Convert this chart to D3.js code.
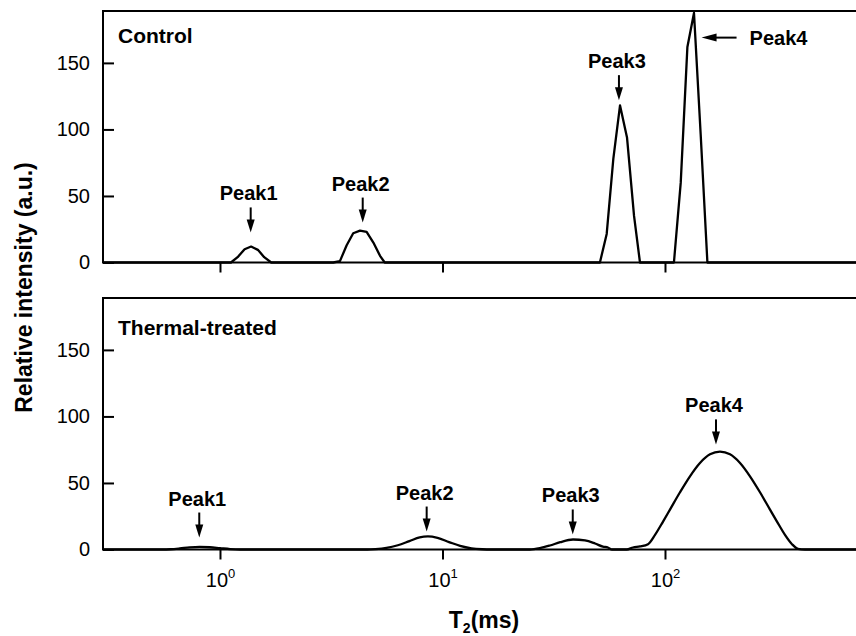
<!DOCTYPE html>
<html>
<head>
<meta charset="utf-8">
<script src="https://cdn.jsdelivr.net/npm/d3@7"></script>
<style>
    body { margin: 0; background: #fff; }
    svg { display: block; }
    text { font-family: 'Liberation Sans', Arial, sans-serif; fill: #000; }
</style>
</head>
<body>
<div id="chart"></div>
<script>
// T2 distribution, control sample (ms / a.u.)
const controlT2 = [0.298, 1.12, 1.20, 1.29, 1.38, 1.48, 1.58, 1.70,
    3.23, 3.46, 3.71, 3.97, 4.26, 4.56, 4.89, 5.24, 5.5,
    51.0, 54.7, 58.6, 62.8, 67.5, 72.6, 77.2,
    109.7, 117.7, 126.1, 135.0, 144.7, 155.1, 737];
const controlAmp = [0, 0, 4, 10, 12, 9.5, 4, 0,
    0, 1, 13, 22, 24, 23, 15, 5, 0,
    0, 21.5, 78, 118, 94, 35, 0,
    0, 60, 162, 187.5, 96, 0, 0];

// T2 distribution, thermal-treated sample
const thermalT2 = [0.298, 0.55, 0.60, 0.66, 0.73, 0.81, 0.90, 1.0, 1.11, 1.23,
    4.6, 5.0, 5.6, 6.3, 7.1, 7.9, 8.6, 9.5, 10.7, 12.0, 13.5, 15.1, 16.5,
    24.7, 27.4, 30.4, 33.8, 38.6, 43.7, 48.5, 52.6, 55.4, 57.8,
    67.3, 71.8, 77.2, 83.9, 90.2, 98.0, 105.3, 116.8, 129.5, 143.6, 159.3, 176.7,
    196, 217.4, 241, 267.3, 296.5, 318.7, 346.2, 372.2, 396, 425.6, 737];
const thermalAmp = [0, 0, 0.2, 0.8, 1.6, 2.0, 1.7, 1.0, 0.3, 0,
    0, 0.3, 1.2, 3.2, 6.3, 9.1, 9.8, 8.7, 5.6, 2.7, 0.9, 0.2, 0,
    0, 1, 3, 5.5, 7.5, 6.8, 4.5, 2.2, 1.5, 0,
    0, 1.5, 2.3, 4, 11, 21, 30, 43, 55, 65, 71.5, 73.5,
    71.5, 65, 55, 43, 30, 21, 11, 4, 0.5, 0, 0];

// peak annotations (arrow tip in data units)
const peakNames = ['Peak1', 'Peak2', 'Peak3', 'Peak4'];
const controlPeakT2 = [1.374, 4.38, 62.1, 146];
const controlPeakAmp = [22.6, 30, 122, 169];
const thermalPeakT2 = [0.807, 8.49, 38.5, 169.5];
const thermalPeakAmp = [9, 13.5, 11.3, 79];

const panelNames = ['Control', 'Thermal-treated'];
const yTicks = [0, 50, 100, 150];
const xTicks = [1, 10, 100];
const xTickExp = ['0', '1', '2'];
const xDomain = [0.298, 737];
const yDomain = [0, 189];

const W = 856, H = 636;
const left = 103, right = 858;
const panelTops = [11, 298];
const panelH = 251.5;

const svg = d3.select('#chart').append('svg')
    .attr('width', W)
    .attr('height', H);

const x = d3.scaleLog().domain(xDomain).range([left, right]);

const panels = [
    {name: panelNames[0], t2: controlT2, amp: controlAmp, pT2: controlPeakT2, pAmp: controlPeakAmp, curve: d3.curveLinear, labels: false},
    {name: panelNames[1], t2: thermalT2, amp: thermalAmp, pT2: thermalPeakT2, pAmp: thermalPeakAmp, curve: d3.curveMonotoneX, labels: true}
];

panels.forEach((p, pi) => {
    const g = svg.append('g').attr('transform', `translate(0,${panelTops[pi]})`);
    const y = d3.scaleLinear().domain(yDomain).range([panelH, 0]);

    // x ticks (outward)
    const xAxis = g.append('g')
        .attr('transform', `translate(0,${panelH})`)
        .call(d3.axisBottom(x).tickValues(xTicks).tickSize(10).tickPadding(13.5).tickFormat(''));
    xAxis.select('.domain').remove();
    xAxis.selectAll('.tick line').attr('stroke', '#000').attr('stroke-width', 2);
    if (p.labels) {
        xAxis.selectAll('.tick text').each(function(d, i) {
            const t = d3.select(this)
                .attr('fill', '#000')
                .style('font-size', '20px')
                .text(null);
            t.append('tspan').text('10');
            t.append('tspan').attr('dy', '-9').style('font-size', '13px').text(xTickExp[i]);
        });
    }

    // y ticks (inward)
    const yAxis = g.append('g')
        .attr('transform', `translate(${left},0)`)
        .call(d3.axisLeft(y).tickValues(yTicks).tickSizeInner(-11).tickSizeOuter(0).tickPadding(13));
    yAxis.select('.domain').remove();
    yAxis.selectAll('.tick line').attr('stroke', '#000').attr('stroke-width', 2);
    yAxis.selectAll('.tick text').attr('fill', '#000').style('font-size', '20px');

    // curve
    const line = d3.line()
        .x(d => x(d[0]))
        .y(d => y(d[1]))
        .curve(p.curve);
    g.append('path')
        .datum(d3.zip(p.t2, p.amp))
        .attr('fill', 'none')
        .attr('stroke', '#000')
        .attr('stroke-width', 2.3)
        .attr('stroke-linejoin', 'round')
        .attr('d', line);

    // frame
    g.append('rect')
        .attr('x', left)
        .attr('y', 0)
        .attr('width', right - left)
        .attr('height', panelH)
        .attr('fill', 'none')
        .attr('stroke', '#000')
        .attr('stroke-width', 2);

    // panel title
    g.append('text')
        .attr('x', left + 15)
        .attr('y', pi === 0 ? 31.5 : 37)
        .style('font-size', '21px')
        .style('font-weight', 'bold')
        .text(p.name);

    // peak labels + arrows
    peakNames.forEach((name, k) => {
        const tx = x(p.pT2[k]);
        const ty = y(p.pAmp[k]);
        const horizontal = (pi === 0 && k === 3);
        if (horizontal) {
            g.append('line')
                .attr('x1', tx + 35).attr('x2', tx + 10)
                .attr('y1', ty).attr('y2', ty)
                .attr('stroke', '#000').attr('stroke-width', 2);
            g.append('path')
                .attr('d', `M${tx},${ty}L${tx + 15},${ty - 4}L${tx + 15},${ty + 4}Z`)
                .attr('fill', '#000');
            g.append('text')
                .attr('x', tx + 48)
                .attr('y', ty)
                .attr('dy', '0.35em')
                .style('font-size', '20px')
                .style('font-weight', 'bold')
                .text(name);
        } else {
            g.append('line')
                .attr('x1', tx).attr('x2', tx)
                .attr('y1', ty - 25).attr('y2', ty - 10)
                .attr('stroke', '#000').attr('stroke-width', 2);
            g.append('path')
                .attr('d', `M${tx},${ty}L${tx - 4},${ty - 13}L${tx + 4},${ty - 13}Z`)
                .attr('fill', '#000');
            g.append('text')
                .attr('x', tx - 2)
                .attr('y', ty - 32)
                .attr('text-anchor', 'middle')
                .style('font-size', '20px')
                .style('font-weight', 'bold')
                .text(name);
        }
    });
});

// axis titles
svg.append('text')
    .attr('transform', 'rotate(-90)')
    .attr('x', -287.5)
    .attr('y', 32)
    .attr('text-anchor', 'middle')
    .style('font-size', '23px')
    .style('font-weight', 'bold')
    .text('Relative intensity (a.u.)');

const xt = svg.append('text')
    .attr('x', 484)
    .attr('y', 628)
    .attr('text-anchor', 'middle')
    .style('font-size', '23px')
    .style('font-weight', 'bold');
xt.append('tspan').text('T');
xt.append('tspan').attr('dy', 5).style('font-size', '14px').text('2');
xt.append('tspan').attr('dy', -5).text('(ms)');
</script>
</body>
</html>
